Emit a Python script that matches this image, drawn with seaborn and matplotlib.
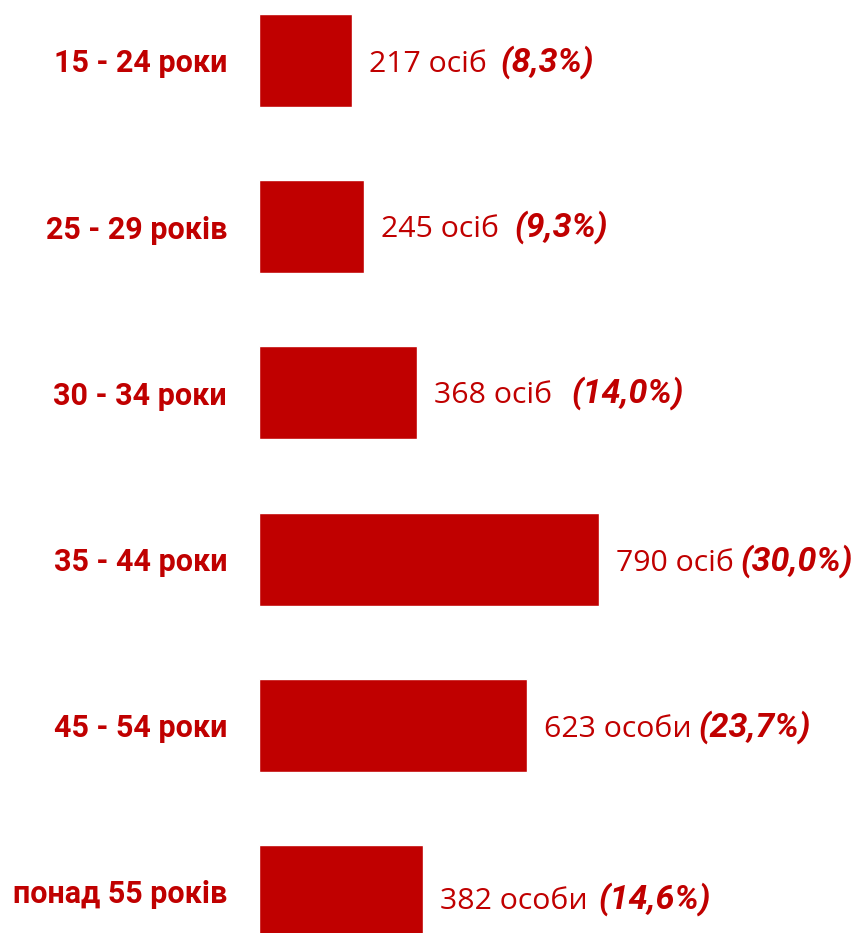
import pandas as pd
import seaborn as sns
import matplotlib.pyplot as plt

groups = ["15 - 24 роки", "25 - 29 років", "30 - 34 роки", "35 - 44 роки", "45 - 54 роки", "понад 55 років"]
counts = [217, 245, 368, 790, 623, 382]
count_labels = ["217 осіб", "245 осіб", "368 осіб", "790 осіб", "623 особи", "382 особи"]
pct_labels = ["(8,3%)", "(9,3%)", "(14,0%)", "(30,0%)", "(23,7%)", "(14,6%)"]

# gap between count and percent text (points), and small vertical shifts
pct_gap = [10, 11, 14, 5, 5, 8]
y_shift = [-3, -2, -2, -3, -3, -7]

red = "#C00000"
data = pd.DataFrame({"group": groups, "count": counts})

sns.set_style("white")
plt.rcParams['font.family'] = ['Open Sans', 'DejaVu Sans']
bold_font = ['Roboto', 'DejaVu Sans']

fig = plt.figure(figsize=(8.61, 9.33), dpi=100)
ax = fig.add_axes([259 / 861, 0, 1 - 259 / 861, 1])

sns.barplot(data=data, x="count", y="group", orient="h", color=red,
            saturation=1, width=0.56, ax=ax)

ax.set_xlim(0, 1399)
ax.set_ylim(5.25, -0.364)
ax.set_xlabel("")
ax.set_ylabel("")
ax.set_xticks([])
ax.set_yticks(range(len(groups)), groups, fontweight="bold", color=red,
              fontsize=22, family=bold_font)
sns.despine(ax=ax, left=True, bottom=True)
ax.tick_params(axis="y", length=0, pad=23)

for i, (c, cl, pl) in enumerate(zip(counts, count_labels, pct_labels)):
    t = ax.annotate(cl, xy=(c, i), xytext=(12, y_shift[i]), textcoords="offset points",
                    ha="left", va="center", fontsize=21.8, color=red)
    ax.annotate(pl, xy=(1, 0), xycoords=t, xytext=(pct_gap[i], 0),
                textcoords="offset points", ha="left", va="bottom",
                fontsize=24.5, color=red, fontweight="bold", fontstyle="italic",
                family=bold_font)

fig.savefig("out.png", dpi=100)
